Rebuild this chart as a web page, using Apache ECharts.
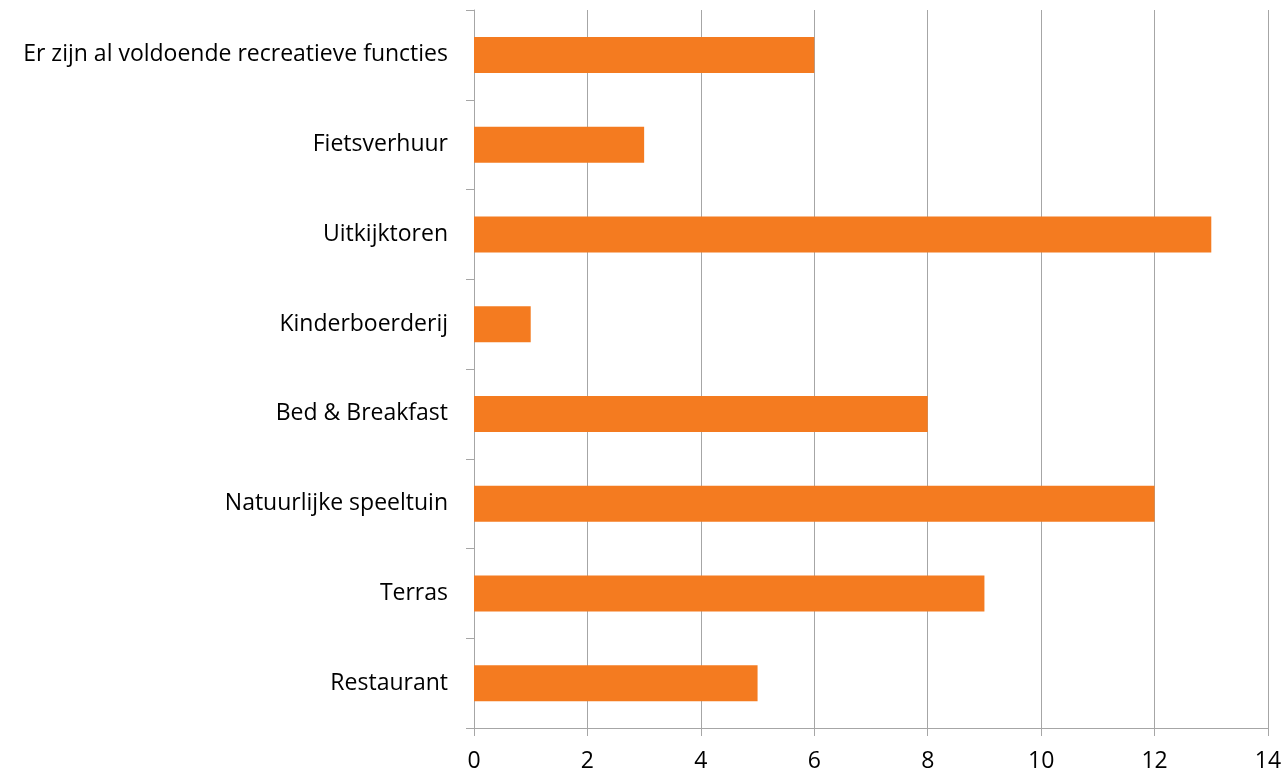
<!DOCTYPE html>
<html>
<head>
<meta charset="utf-8">
<script src="https://cdn.jsdelivr.net/npm/echarts@6/dist/echarts.min.js"></script>
<style>html,body{margin:0;padding:0;background:#fff}#c{width:1285px;height:773px}</style>
</head>
<body>
<div id="c"></div>
<script>
const categories = ["Restaurant", "Terras", "Natuurlijke speeltuin", "Bed & Breakfast", "Kinderboerderij", "Uitkijktoren", "Fietsverhuur", "Er zijn al voldoende recreatieve functies"];
const values = [5, 9, 12, 8, 1, 13, 3, 6];
const xMin = 0, xMax = 14, xStep = 2;

const chart = echarts.init(document.getElementById('c'), null, {renderer: 'canvas'});
const font = '"Open Sans", "Liberation Sans", sans-serif';
chart.setOption({
  animation: false,
  grid: {left: 474, right: 17, top: 10, bottom: 45, containLabel: false},
  xAxis: {
    type: 'value', min: xMin, max: xMax, interval: xStep,
    axisLine: {show: true, lineStyle: {color: '#A6A6A6', width: 1}},
    axisTick: {show: true, length: 8, lineStyle: {color: '#A6A6A6'}},
    splitLine: {show: true, lineStyle: {color: '#A6A6A6', width: 1}},
    axisLabel: {color: '#000', fontSize: 23, fontFamily: font, margin: 22}
  },
  yAxis: {
    type: 'category', data: categories,
    axisLine: {show: true, lineStyle: {color: '#A6A6A6', width: 1}},
    axisTick: {show: true, length: 8, alignWithLabel: false, lineStyle: {color: '#A6A6A6'}},
    axisLabel: {color: '#000', fontSize: 23, fontFamily: font, margin: 26}
  },
  series: [{
    type: 'bar', data: values, barWidth: 36,
    itemStyle: {color: '#F47B20'}
  }]
});
</script>
</body>
</html>
